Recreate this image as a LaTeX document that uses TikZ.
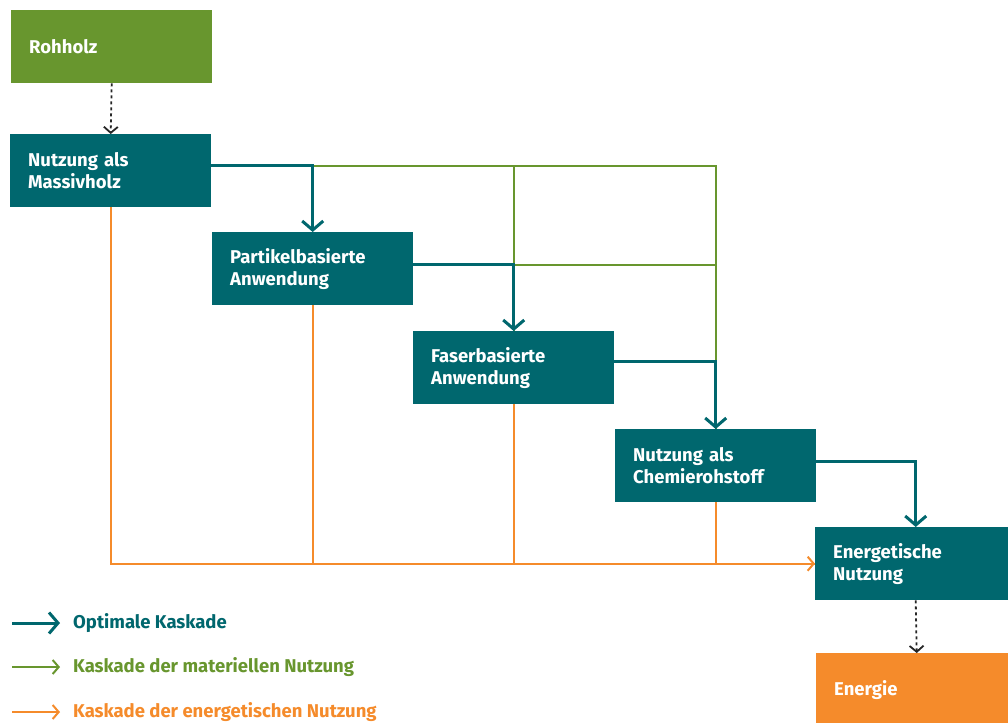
\documentclass[tikz,border=0pt]{standalone}
\usepackage{fontspec}
\setmainfont{Fira Sans}
\usetikzlibrary{arrows.meta}
\definecolor{kteal}{HTML}{00676E}
\definecolor{kgreen}{HTML}{68962E}
\definecolor{korange}{HTML}{F58B2B}
\tikzset{
  stage/.style={anchor=north west, rectangle, fill=kteal, text=white, inner xsep=18pt, inner ysep=0pt,
    text width=165pt, minimum height=73pt, align=left, font=\bfseries\fontsize{18.5}{22}\selectfont},
  optimal/.style={draw=kteal, line width=3pt, -{Straight Barb[length=9pt,width=21pt]}},
  material/.style={draw=kgreen, line width=2pt},
  energetic/.style={draw=korange, line width=2pt},
  dotarrow/.style={draw=black!85, line width=1.8pt, dash pattern=on 3pt off 3pt, -{Straight Barb[length=6pt,width=14pt]}},
  legend/.style={anchor=west, inner sep=0pt, xshift=13pt, font=\bfseries\fontsize{18.5}{22}\selectfont}
}
\begin{document}
\begin{tikzpicture}[x=1pt, y=-1pt]
			%%%%% START %%%%%
			
			\useasboundingbox[fill=white] (0, 0) rectangle (1008, 722);
			
			\node[stage, fill=kgreen] (roh) at (11, 10) {Rohholz};
			\node[stage] (mass) at (10, 134) {Nutzung als\\Massivholz};
			\node[stage] (part) at (212, 232) {Partikelbasierte\\Anwendung};
			\node[stage] (fas) at (413, 331) {Faserbasierte\\Anwendung};
			\node[stage] (chem) at (615, 429) {Nutzung als\\Chemierohstoff};
			\node[stage] (ener) at (815, 527) {Energetische\\Nutzung};
			\node[stage, fill=korange] (energie) at (816, 653) {Energie};
			
			\draw[dotarrow] (roh.south) -- (mass.north);
			\draw[dotarrow] (ener.south) -- (energie.north);
			
			\draw[material] ([yshift=5pt]mass.east) -| (chem.north);
			\draw[material] ([yshift=5pt]mass.east) -| (fas.north);
			\draw[material] ([yshift=4pt]part.east) -| (chem.north);
			
			\draw[energetic, -{Straight Barb[length=6pt,width=14pt]}] (mass.south) |- (ener.west);
			\draw[energetic] (part.south) |- (ener.west);
			\draw[energetic] (fas.south) |- (ener.west);
			\draw[energetic] (chem.south) |- (ener.west);
			
			\draw[optimal] ([yshift=5pt]mass.east) -| (part.north);
			\draw[optimal] ([yshift=4pt]part.east) -| (fas.north);
			\draw[optimal] ([yshift=6pt]fas.east) -| (chem.north);
			\draw[optimal] ([yshift=4pt]chem.east) -| (ener.north);
			
			\node[legend, text=kteal] (leg1) at (60, 623) {Optimale Kaskade};
			\node[legend, text=kgreen] (leg2) at (60, 667) {Kaskade der materiellen Nutzung};
			\node[legend, text=korange] (leg3) at (60, 712) {Kaskade der energetischen Nutzung};
			\coordinate (leg1s) at (12, 623);
			\coordinate (leg2s) at (12, 667);
			\coordinate (leg3s) at (12, 712);
			\draw[optimal] (leg1s) -- ([xshift=-13pt]leg1.west);
			\draw[material, -{Straight Barb[length=6pt,width=14pt]}] (leg2s) -- ([xshift=-13pt]leg2.west);
			\draw[energetic, -{Straight Barb[length=6pt,width=14pt]}] (leg3s) -- ([xshift=-13pt]leg3.west);
			
			%%%%% END %%%%%
\end{tikzpicture}
\end{document}
